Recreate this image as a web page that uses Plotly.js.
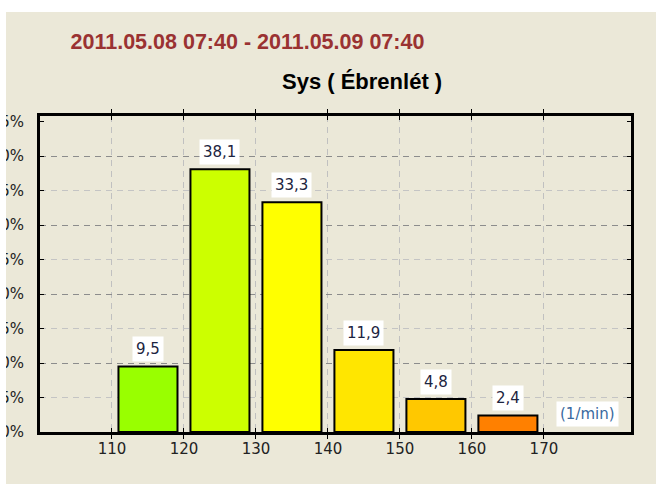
<!DOCTYPE html>
<html>
<head>
<meta charset="utf-8">
<script src="https://cdn.plot.ly/plotly-3.0.1.min.js"></script>
<style>
html,body{margin:0;padding:0;background:#ffffff;}
#chart{position:absolute;left:6px;top:12px;width:650px;height:472px;}
</style>
</head>
<body>
<div id="chart"></div>
<script>
// Data
var binCenters = [115, 125, 135, 145, 155, 165];
var percentValues = [9.5, 38.1, 33.3, 11.9, 4.8, 2.4];
var valueLabels = ['9,5', '38,1', '33,3', '11,9', '4,8', '2,4'];
var barColors = ['#99ff00', '#ccff00', '#ffff00', '#ffe600', '#ffc800', '#ff8000'];
var xTicks = [110, 120, 130, 140, 150, 160, 170];
var yTicks = [0, 5, 10, 15, 20, 25, 30, 35, 40, 45];
var yTickText = ['0%', '5%', '10%', '15%', '20%', '25%', '30%', '35%', '40%', '45%'];
var yGridMajor = [10, 20, 30, 40];
var yGridMinor = [5, 15, 25, 35];
var titleText = '2011.05.08 07:40 - 2011.05.09 07:40';
var subTitleText = 'Sys ( Ébrenlét )';
var unitText = '(1/min)';

var bg = '#ebe8d8';
var FONT = 'Liberation Sans, Arial, sans-serif';
var SMALL = 'DejaVu Sans, Verdana, sans-serif';
var yRange = [0, 45.8];

var traces = [
  {
    type: 'bar',
    x: binCenters,
    y: percentValues,
    width: 8.2,
    marker: {color: barColors, line: {color: '#000000', width: 2}},
    hoverinfo: 'none'
  },
  {type: 'scatter', x: [], y: [], yaxis: 'y2', hoverinfo: 'none', showlegend: false},
  {type: 'scatter', x: [], y: [], yaxis: 'y3', hoverinfo: 'none', showlegend: false}
];

var annotations = binCenters.map(function (x, i) {
  return {
    x: x, y: percentValues[i], xref: 'x', yref: 'y',
    text: valueLabels[i], showarrow: false,
    yanchor: 'bottom', yshift: 4,
    bgcolor: '#ffffff', borderpad: 3,
    font: {family: SMALL, size: 15, color: '#1c2440'}
  };
});
annotations.push({
  xref: 'paper', yref: 'paper', x: 0.5448, y: 1.1076,
  xanchor: 'center', yanchor: 'middle', showarrow: false,
  text: '<b>' + subTitleText + '</b>',
  font: {family: FONT, size: 22, color: '#000000'}
});
annotations.push({
  xref: 'paper', yref: 'paper', x: 0.927, y: 0.058,
  xanchor: 'center', yanchor: 'middle', showarrow: false,
  text: unitText, bgcolor: '#ffffff', borderpad: 3,
  font: {family: SMALL, size: 15, color: '#3a6aa0'}
});

var layout = {
  width: 650, height: 472,
  margin: {l: 34, r: 25, t: 104, b: 52, pad: 0},
  paper_bgcolor: bg,
  plot_bgcolor: bg,
  showlegend: false,
  title: {
    text: '<b>' + titleText + '</b>',
    x: 0.3715, xref: 'container', xanchor: 'center',
    y: 0.9386, yref: 'container', yanchor: 'middle',
    font: {family: FONT, size: 21.5, color: '#9a3232'}
  },
  xaxis: {
    range: [100, 182.1],
    tickvals: xTicks,
    ticktext: xTicks.map(String),
    showgrid: true, gridcolor: '#c0c0c0', griddash: '6px,5px', gridwidth: 1,
    zeroline: false,
    showline: true, linecolor: '#000000', linewidth: 3, mirror: 'allticks',
    ticks: 'inside', ticklen: 4, tickcolor: '#000000', tickwidth: 1,
    ticklabelstandoff: 1,
    tickfont: {family: SMALL, size: 15, color: '#222222'},
    fixedrange: true
  },
  yaxis: {
    range: yRange,
    tickvals: yTicks,
    ticktext: yTickText,
    showgrid: false,
    zeroline: false,
    showline: true, linecolor: '#000000', linewidth: 3, mirror: 'allticks',
    ticks: 'inside', ticklen: 4, tickcolor: '#000000', tickwidth: 1,
    ticklabelstandoff: 10,
    tickfont: {family: SMALL, size: 15, color: '#222222'},
    fixedrange: true
  },
  yaxis2: {
    overlaying: 'y', range: yRange, tickvals: yGridMajor,
    showticklabels: false, ticks: '', showline: false, zeroline: false,
    showgrid: true, gridcolor: '#8c8c8c', griddash: '6px,5px', gridwidth: 1,
    fixedrange: true
  },
  yaxis3: {
    overlaying: 'y', range: yRange, tickvals: yGridMinor,
    showticklabels: false, ticks: '', showline: false, zeroline: false,
    showgrid: true, gridcolor: '#c4c4c4', griddash: '6px,5px', gridwidth: 1,
    fixedrange: true
  },
  annotations: annotations,
  bargap: 0
};

Plotly.newPlot('chart', traces, layout, {displayModeBar: false, staticPlot: true});
</script>
</body>
</html>
